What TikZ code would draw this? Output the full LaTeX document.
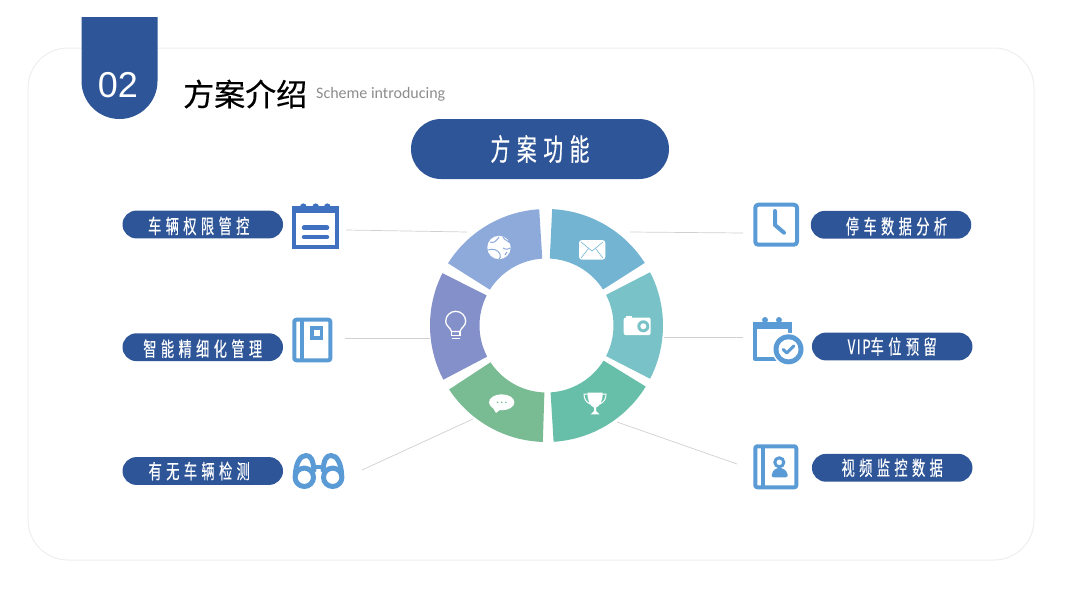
\documentclass[tikz,border=0pt]{standalone}
\usepackage{fontspec}
\usepackage{tikz}
\newfontfamily\cjkfont[FakeBold=0.4]{Noto Sans CJK SC}
\newfontfamily\pillfont[FakeStretch=0.66,LetterSpace=22,FakeBold=0.3]{Noto Sans CJK SC}
\newfontfamily\numfont{Liberation Sans}
\newfontfamily\subfont{Carlito}
\definecolor{barblue}{HTML}{2E5597}
\definecolor{cardline}{HTML}{EEEEEE}
\definecolor{leaderline}{HTML}{D0D0D0}
\definecolor{icondark}{HTML}{4070C0}
\definecolor{iconblue}{HTML}{5B9BD5}
\definecolor{segglobe}{HTML}{8EAADB}
\definecolor{segmail}{HTML}{74B4D3}
\definecolor{segcam}{HTML}{79C2C8}
\definecolor{segcup}{HTML}{67BFA9}
\definecolor{segchat}{HTML}{79BB92}
\definecolor{segbulb}{HTML}{8490C9}
\tikzset{
  pillbox/.style={fill=barblue, text=white, rounded corners=13.9pt, minimum width=160.5pt, minimum height=27.8pt, inner sep=0pt, font=\pillfont\fontsize{20}{20}\selectfont},
  lowered/.style={text height=20pt, text depth=1.8pt},
  leader/.style={draw=leaderline, line width=0.7pt},
  icon/.style={draw=iconblue, line width=4pt, line join=round, line cap=round},
}
\begin{document}
\begin{tikzpicture}[x=1pt,y=-1pt]
\useasboundingbox (0,0) rectangle (1080,608);
% card and header
\draw[cardline, line width=1pt, rounded corners=40pt] (28,48) rectangle (1034,560);
\fill[barblue] (81.5,17) -- (157.5,17) -- (157.5,81) arc[start angle=0, end angle=180, x radius=38, y radius=38] -- cycle;
\node[text=white, font=\numfont\fontsize{36}{36}\selectfont, inner sep=0pt] (secnum) at (118,85) {02};
\node[anchor=west, font=\cjkfont\fontsize{31}{31}\selectfont, inner sep=0pt] (title) at (183,94) {方案介绍};
\node[anchor=west, text=black!45, font=\subfont\fontsize{16}{16}\selectfont, inner sep=0pt] (subtitle) at (316,94) {Scheme introducing};
\node[pillbox, minimum width=258pt, minimum height=60pt, rounded corners=30pt, font=\pillfont\fontsize{30}{30}\selectfont] (head) at (540,149) {方案功能};
% labels
\node[pillbox, lowered] (ctrl) at (202.75,224.5) {车辆权限管控\hspace*{8pt}};
\node[pillbox, lowered] (smart) at (202.75,347.2) {智能精细化管理};
\node[pillbox] (detect) at (202.75,471) {有无车辆检测\hspace*{7pt}};
\node[pillbox, lowered] (stats) at (891,224.8) {\hspace*{11pt}停车数据分析};
\node[pillbox] (vip) at (892.2,346.5) {{\addfontfeature{LetterSpace=8}VIP}车位预留};
\node[pillbox] (video) at (892.2,467.8) {视频监控数据};
% leader lines
\coordinate (l1a) at (346,230); \coordinate (l1b) at (467,232);
\coordinate (l2a) at (345,338); \coordinate (l2b) at (430,338);
\coordinate (l3a) at (362,470); \coordinate (l3b) at (473,419);
\coordinate (r1a) at (630,232); \coordinate (r1b) at (743,233);
\coordinate (r2a) at (664,337); \coordinate (r2b) at (743,337);
\coordinate (r3a) at (617,422); \coordinate (r3b) at (737,464);
\draw[leader] (l1a) -- (l1b);
\draw[leader] (l2a) -- (l2b);
\draw[leader] (l3a) -- (l3b);
\draw[leader] (r1a) -- (r1b);
\draw[leader] (r2a) -- (r2b);
\draw[leader] (r3a) -- (r3b);
% ring
\begin{scope}[shift={(546.5,325.5)}, yscale=-1]
\fill[segglobe] (147.7:116.5) arc[start angle=147.7, end angle=93.6, radius=116.5] -- (93.6:67) arc[start angle=93.6, end angle=147.7, radius=67] -- cycle;
\fill[segmail] (87.2:116.5) arc[start angle=87.2, end angle=32.5, radius=116.5] -- (32.5:67) arc[start angle=32.5, end angle=87.2, radius=67] -- cycle;
\fill[segcam] (27.2:116.5) arc[start angle=27.2, end angle=-27.2, radius=116.5] -- (-27.2:67) arc[start angle=-27.2, end angle=27.2, radius=67] -- cycle;
\fill[segcup] (-31.6:116.5) arc[start angle=-31.6, end angle=-86.5, radius=116.5] -- (-86.5:67) arc[start angle=-86.5, end angle=-31.6, radius=67] -- cycle;
\fill[segchat] (-91.8:116.5) arc[start angle=-91.8, end angle=-146.7, radius=116.5] -- (-146.7:67) arc[start angle=-146.7, end angle=-91.8, radius=67] -- cycle;
\fill[segbulb] (207.7:116.5) arc[start angle=207.7, end angle=153.3, radius=116.5] -- (153.3:67) arc[start angle=153.3, end angle=207.7, radius=67] -- cycle;
\end{scope}
% globe
\fill[white] (499,247.5) circle[radius=11.7];
\draw[segglobe, line width=1pt] (503,237) .. controls (505,241) and (508,240) .. (510,243);
\draw[segglobe, line width=1pt] (490,242) .. controls (494,244) and (497,240) .. (499,237);
\draw[segglobe, line width=1pt] (488,250) .. controls (493,248) and (498,250) .. (500,254) .. controls (501,257) and (500,258) .. (499,259);
\draw[segglobe, line width=1pt] (503,248) .. controls (506,250) and (509,249) .. (510.5,248);
\draw[segglobe, line width=1pt] (505,255) -- (507,252);
% envelope
\fill[white, rounded corners=3pt] (579,240) rectangle (605.3,259.7);
\draw[segmail, line width=0.6pt] (581,242) -- (592,251) -- (603,242);
\draw[segmail, line width=0.6pt] (581,258) -- (588.5,248.5);
\draw[segmail, line width=0.6pt] (603,258) -- (595.5,248.5);
% camera
\fill[white, rounded corners=2pt] (623.7,317.5) rectangle (650.7,335);
\fill[white] (625.5,316) rectangle (632,319);
\fill[segcam] (643.3,326.3) circle[radius=6];
\fill[white] (643.3,326.3) circle[radius=3];
% bulb
\draw[white, line width=1.3pt] (451.5,331.5) .. controls (450.5,327.5) and (445.7,326) .. (445.7,321.3) arc[start angle=180, end angle=360, radius=10] .. controls (465.7,326) and (461,327.5) .. (460,331.5) -- cycle;
\draw[white, line width=1.3pt] (451.5,331.5) rectangle (460,335.5);
\draw[white, line width=1.2pt] (452,338.5) -- (460,338.5);
% chat
\fill[white] (501.7,402.3) ellipse[x radius=12.7, y radius=8];
\fill[white] (493,408) -- (496,413) -- (501,409) -- cycle;
\fill[segchat] (497.5,402.3) circle[radius=0.9];
\fill[segchat] (501.7,402.3) circle[radius=0.9];
\fill[segchat] (505.9,402.3) circle[radius=0.9];
% trophy
\fill[white] (587.5,392.5) -- (602.7,392.5) .. controls (602.7,401) and (600,406) .. (596.2,407.5) -- (596,411) -- (599.5,414.3) -- (590.7,414.3) -- (594.2,411) -- (594,407.5) .. controls (590,406) and (587.5,401) .. (587.5,392.5) -- cycle;
\draw[white, line width=1pt] (588,394) -- (584,394) .. controls (584,399) and (586,402) .. (590,404);
\draw[white, line width=1pt] (602,394) -- (606,394) .. controls (606,399) and (604,402) .. (600,404);
% notepad
\draw[icondark, line width=4pt] (294.3,208) rectangle (336.7,246.7);
\fill[icondark] (292.3,205.5) rectangle (338.7,213);
\fill[icondark] (303.3,206.7) circle[radius=3.3];
\fill[icondark] (315.7,206.7) circle[radius=3.3];
\fill[icondark] (327.3,206.7) circle[radius=3.3];
\draw[icondark, line width=4.5pt, line cap=round] (304,227.7) -- (327,227.7);
\draw[icondark, line width=4.5pt, line cap=round] (304,237) -- (327,237);
% notebook
\draw[icon, rounded corners=2pt] (294.3,319.7) rectangle (330.3,360.3);
\draw[icon, line cap=butt] (302,319.7) -- (302,360.3);
\draw[iconblue, line width=3.5pt] (311.8,327.8) rectangle (321.5,338.2);
% binoculars
\draw[icon, line width=5pt] (304.3,477.3) circle[radius=9.2];
\draw[icon, line width=5pt] (332.7,477.3) circle[radius=9.2];
\draw[icon, line width=5pt] (295.3,475) .. controls (296,463) and (300,455.5) .. (306,455.5) .. controls (311,455.5) and (313,460) .. (314,470);
\draw[icon, line width=5pt] (341.7,475) .. controls (341,463) and (337,455.5) .. (331,455.5) .. controls (326,455.5) and (324,460) .. (323,470);
\draw[icon] (314,467) -- (323,467);
% clock
\draw[icon, rounded corners=3pt] (755.3,204.7) rectangle (797,244.7);
\draw[icon] (775,211) -- (775,225) -- (784,232.7);
% calendar with badge
\draw[icon, line cap=butt] (755.3,323.5) rectangle (789.7,359);
\fill[iconblue] (753.3,322) rectangle (791.7,329);
\fill[iconblue] (765,320) circle[radius=3];
\fill[iconblue] (779,320) circle[radius=3];
\fill[white] (788.5,349.3) circle[radius=16.5];
\fill[iconblue] (788.5,349.3) circle[radius=15];
\fill[white] (788.5,349.3) circle[radius=10];
\draw[iconblue, line width=3pt, line cap=round, line join=round] (783.3,349.5) -- (786.8,353) -- (793.8,346);
% contact book
\draw[icon, rounded corners=2pt] (755.3,446.3) rectangle (796.3,487.3);
\draw[icon, line cap=butt] (763,446.3) -- (763,487.3);
\draw[iconblue, line width=3pt] (779.3,462.3) circle[radius=4.5];
\fill[iconblue, rounded corners=2pt] (771.7,477.3) -- (771.7,473) -- (776,468) -- (783,468) -- (787.7,473) -- (787.7,477.3) -- cycle;
\end{tikzpicture}
\end{document}
